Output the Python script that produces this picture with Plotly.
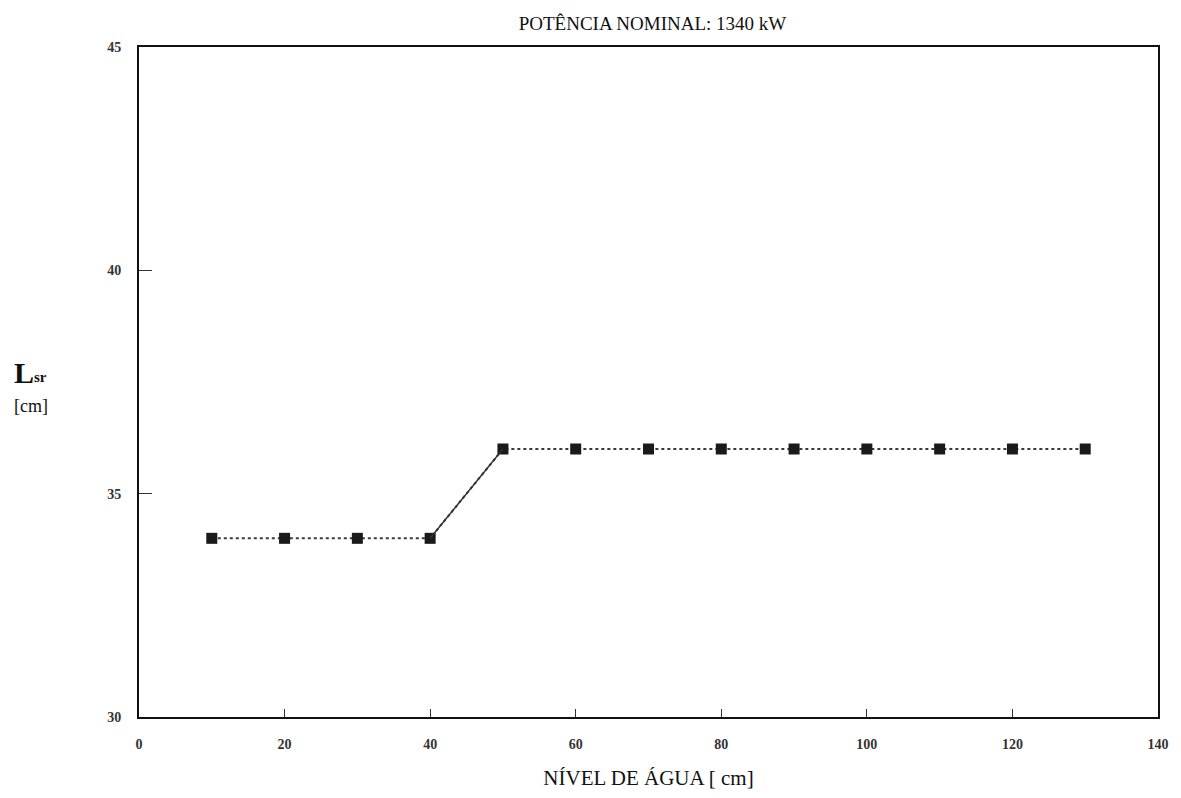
import plotly.graph_objects as go

nivel = [10, 20, 30, 40, 50, 60, 70, 80, 90, 100, 110, 120, 130]
lsr = [34, 34, 34, 34, 36, 36, 36, 36, 36, 36, 36, 36, 36]
x_ticks = [0, 20, 40, 60, 80, 100, 120, 140]
y_ticks = [30, 35, 40, 45]

SERIF = "Liberation Serif, Times New Roman, serif"
L, R, T, B = 139, 1166, 47, 718
PW, PH = R - L, B - T


def px(x):
    return (x - L) / PW


def py(y):
    return (B - y) / PH


fig = go.Figure()
fig.add_trace(go.Scatter(
    x=nivel, y=lsr, mode="lines+markers",
    line=dict(color="#3a3a3a", width=2, dash="dot"),
    marker=dict(symbol="square", size=11, color="#1a1a1a"),
    showlegend=False,
))
fig.add_trace(go.Scatter(
    x=nivel[3:5], y=lsr[3:5], mode="lines",
    line=dict(color="#333333", width=1.5),
    showlegend=False,
))

fig.update_layout(
    width=1181, height=798,
    margin=dict(l=L, r=1181 - R, t=T, b=798 - B),
    paper_bgcolor="white", plot_bgcolor="white",
    font=dict(family=SERIF, color="#111111"),
    title=dict(text="POTÊNCIA NOMINAL: 1340 kW", x=(L + R) / 2 / 1181,
               xanchor="center", y=1 - 23 / 798, yanchor="middle",
               font=dict(size=19, family=SERIF, color="#111111")),
)
fig.update_xaxes(
    range=[0, 140], tickvals=x_ticks, ticks="inside", ticklen=8, tickwidth=1,
    tickcolor="#333", showline=True, linewidth=2, linecolor="#111", mirror=True,
    showgrid=False, zeroline=False, ticklabelstandoff=13,
    tickfont=dict(size=14, family=SERIF, color="#333", weight="bold"),
    title=dict(text="NÍVEL DE ÁGUA [ cm]", font=dict(size=21, family=SERIF, color="#111"),
               standoff=20),
)
fig.update_yaxes(
    range=[30, 45], tickvals=y_ticks, ticks="inside", ticklen=13, tickwidth=1,
    tickcolor="#333", showline=True, linewidth=2, linecolor="#111", mirror=True,
    showgrid=False, zeroline=False, ticklabelstandoff=13,
    tickfont=dict(size=14, family=SERIF, color="#333", weight="bold"),
)
fig.add_annotation(
    text="<b>L</b>", xref="paper", yref="paper",
    x=px(11), y=py(373), xanchor="left", yanchor="middle",
    showarrow=False, font=dict(size=30, family=SERIF, color="#111"),
)
fig.add_annotation(
    text="<b>sr</b>", xref="paper", yref="paper",
    x=px(31), y=py(377), xanchor="left", yanchor="middle",
    showarrow=False, font=dict(size=15, family=SERIF, color="#111"),
)
fig.add_annotation(
    text="[cm]", xref="paper", yref="paper",
    x=px(11), y=py(407), xanchor="left", yanchor="middle",
    showarrow=False, font=dict(size=18, family=SERIF, color="#111"),
)

fig.write_html("out.html", config={"displayModeBar": False},
               post_script="document.body.style.margin='0';")
